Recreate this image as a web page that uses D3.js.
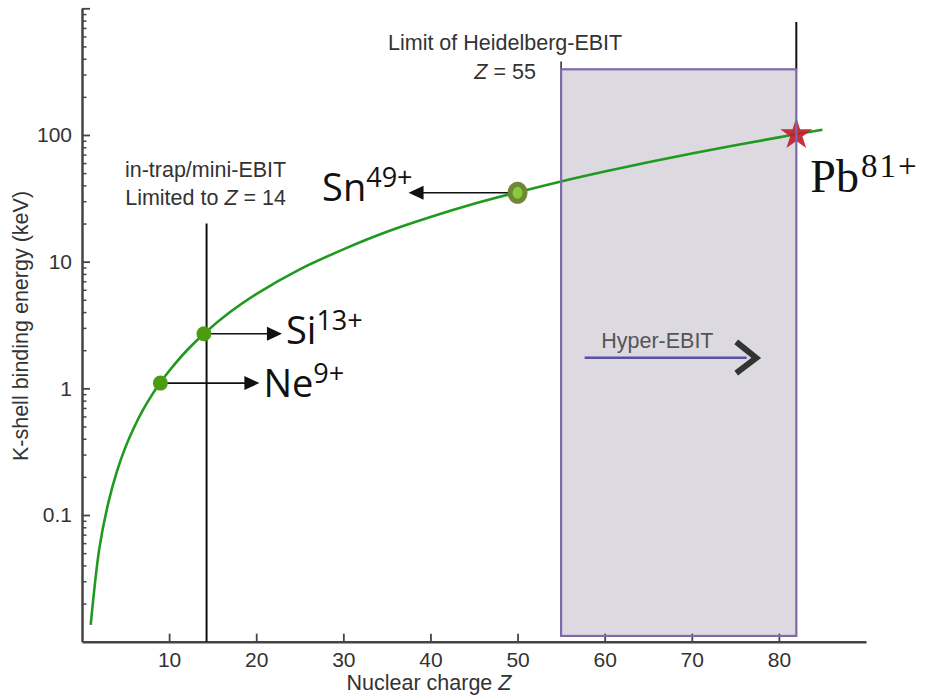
<!DOCTYPE html>
<html>
<head>
<meta charset="utf-8">
<script src="https://cdn.jsdelivr.net/npm/d3@7"></script>
<style>
  body { margin: 0; background: #fff; }
  svg { display: block; }
  .tick text { fill: #333; font-family: "Liberation Sans", Arial, sans-serif; font-size: 21px; }
</style>
</head>
<body>
<div id="chart"></div>
<script>
// K-shell binding energy curve
const curveZ   = [1, 2, 3, 4, 5, 6, 7, 8, 9, 10, 12, 14, 17, 20, 25, 30, 35, 40, 45, 50, 55, 60, 65, 70, 75, 80, 82, 85];
const curveKeV = [0.0136, 0.055, 0.123, 0.22, 0.345, 0.495, 0.675, 0.88, 1.11, 1.37, 1.98, 2.7, 4.0, 5.55, 8.7, 12.5, 17.2, 22.5, 28.6, 35.3, 43.0, 51.5, 61.0, 71.5, 83.0, 95.7, 101.4, 110];

// highlighted ions
const ionNames   = ['Ne', 'Si', 'Sn', 'Pb'];
const ionCharges = ['9+', '13+', '49+', '81+'];
const ionZ       = [9, 14, 50, 82];
const ionKeV     = [1.1, 2.7, 35, 101];

// device limits
const miniEbitZ = 14.3;
const heidelbergZ = 55;
const hyperEbitZ = 82;

// axes
const xTicks = [10, 20, 30, 40, 50, 60, 70, 80];
const yTicks = [0.1, 1, 10, 100, 1000];
const yTickLabels = ['0.1', '1', '10', '100', ''];

const W = 927, H = 697;
const svg = d3.select('#chart').append('svg')
  .attr('width', W)
  .attr('height', H);

const x = d3.scaleLinear().domain([0, 90]).range([82, 866]);
const y = d3.scaleLog().domain([0.01, 1000]).range([641.7, 8.3]);

// Heidelberg-EBIT / Hyper-EBIT region (fill first, outline later)
const boxTop = y(330), boxBottom = y(0.0111);
svg.append('rect')
  .attr('x', x(heidelbergZ))
  .attr('y', boxTop)
  .attr('width', x(hyperEbitZ) - x(heidelbergZ))
  .attr('height', boxBottom - boxTop)
  .attr('fill', '#dcd9e1');

// minor y ticks
const minorTicks = [];
[0.01, 0.1, 1, 10, 100].forEach(d => {
  for (let k = 2; k <= 9; k++) minorTicks.push(d * k);
});
svg.append('g')
  .attr('transform', `translate(${x(0)},0)`)
  .call(d3.axisLeft(y).tickValues(minorTicks).tickSize(-4.5).tickFormat(''))
  .call(g => g.select('.domain').remove())
  .call(g => g.selectAll('line').attr('stroke', '#444').attr('stroke-width', 1.5));

// major y ticks + axis line
svg.append('g')
  .attr('transform', `translate(${x(0)},0)`)
  .call(d3.axisLeft(y).tickValues(yTicks).tickSize(-8).tickSizeOuter(0).tickPadding(10)
    .tickFormat((d, i) => yTickLabels[i]))
  .call(g => g.select('.domain').attr('stroke', '#444').attr('stroke-width', 2.5))
  .call(g => g.selectAll('line').attr('stroke', '#444').attr('stroke-width', 1.8));

// x axis
svg.append('g')
  .attr('transform', `translate(0,${y(0.01)})`)
  .call(d3.axisBottom(x).tickValues(xTicks).tickSize(-8).tickSizeOuter(0).tickPadding(10))
  .call(g => g.select('.domain').attr('stroke', '#444').attr('stroke-width', 2.5))
  .call(g => g.selectAll('line').attr('stroke', '#444').attr('stroke-width', 1.8));

// axis titles
const xTitle = svg.append('text')
  .attr('x', 429).attr('y', 690)
  .attr('text-anchor', 'middle')
  .style('font-family', '"Liberation Sans", Arial, sans-serif')
  .style('font-size', '21.5px')
  .attr('fill', '#333');
xTitle.append('tspan').text('Nuclear charge ');
xTitle.append('tspan').style('font-style', 'italic').text('Z');

svg.append('text')
  .attr('transform', 'translate(28,326) rotate(-90)')
  .attr('text-anchor', 'middle')
  .style('font-family', '"Liberation Sans", Arial, sans-serif')
  .style('font-size', '21.5px')
  .attr('fill', '#333')
  .text('K-shell binding energy (keV)');

// binding energy curve
const curveData = curveZ.map((z, i) => ({ z, e: curveKeV[i] }));
svg.append('path')
  .datum(curveData)
  .attr('fill', 'none')
  .attr('stroke', '#1f9a1f')
  .attr('stroke-width', 2.6)
  .attr('d', d3.line().x(d => x(d.z)).y(d => y(d.e)).curve(d3.curveCatmullRom.alpha(0.5)));

// mini-EBIT limit line
svg.append('line')
  .attr('x1', x(miniEbitZ)).attr('x2', x(miniEbitZ))
  .attr('y1', y(20)).attr('y2', y(0.01))
  .attr('stroke', '#111').attr('stroke-width', 2);

const labelFont = '"Liberation Sans", Arial, sans-serif';
function plainLabel(cx, cy, parts) {
  const t = svg.append('text')
    .attr('x', cx).attr('y', cy)
    .attr('text-anchor', 'middle')
    .style('font-family', labelFont)
    .style('font-size', '21.5px')
    .attr('fill', '#333');
  parts.forEach(p => t.append('tspan').style('font-style', p.italic ? 'italic' : 'normal').text(p.text));
}
plainLabel(x(miniEbitZ) - 1, y(20) - 47, [{ text: 'in-trap/mini-EBIT' }]);
plainLabel(x(miniEbitZ) - 1, y(20) - 19, [{ text: 'Limited to ' }, { text: 'Z', italic: true }, { text: ' = 14' }]);
plainLabel(x(heidelbergZ) - 56, boxTop - 19.5, [{ text: 'Limit of Heidelberg-EBIT' }]);
plainLabel(x(heidelbergZ) - 56, boxTop + 9.5, [{ text: 'Z', italic: true }, { text: ' = 55' }]);

// tick above box at Z = 55 and Pb line
svg.append('line')
  .attr('x1', x(heidelbergZ)).attr('x2', x(heidelbergZ))
  .attr('y1', y(380)).attr('y2', boxTop)
  .attr('stroke', '#222').attr('stroke-width', 1.5);
svg.append('line')
  .attr('x1', x(hyperEbitZ)).attr('x2', x(hyperEbitZ))
  .attr('y1', y(780)).attr('y2', boxTop)
  .attr('stroke', '#111').attr('stroke-width', 2);

// arrows
function arrow(x1, y1, x2, yy) {
  const dir = Math.sign(x2 - x1);
  svg.append('line')
    .attr('x1', x1).attr('x2', x2 - dir * 12)
    .attr('y1', yy).attr('y2', yy)
    .attr('stroke', '#111').attr('stroke-width', 1.6);
  svg.append('path')
    .attr('d', `M${x2},${yy} L${x2 - dir * 15},${yy - 7} L${x2 - dir * 15},${yy + 7} Z`)
    .attr('fill', '#111');
}

// layout of ion annotations (pixel offsets from the point)
const ionLayout = {
  Ne: { len: 99, dy: 14, tx: 4 },
  Si: { len: 78, dy: 10, tx: 4 },
  Sn: { len: -109, dy: 8, tx: 4 }
};

ionNames.forEach((name, i) => {
  const px = x(ionZ[i]), py = y(ionKeV[i]);
  if (name === 'Pb') return;
  const L = ionLayout[name];
  arrow(px + Math.sign(L.len) * 5, py, px + L.len, py);
  const t = svg.append('text')
    .attr('x', px + L.len + L.tx)
    .attr('y', py + L.dy)
    .attr('text-anchor', L.len < 0 ? 'end' : 'start')
    .style('font-family', '"Open Sans", "Noto Sans", sans-serif')
    .style('font-size', '38px')
    .attr('fill', '#111');
  t.append('tspan').text(name);
  t.append('tspan').attr('dy', -14).style('font-size', '27px').text(ionCharges[i]);
});

// ion points
['Ne', 'Si'].forEach(name => {
  const i = ionNames.indexOf(name);
  svg.append('circle')
    .attr('cx', x(ionZ[i])).attr('cy', y(ionKeV[i]))
    .attr('r', 7.5)
    .attr('fill', '#4c9c12');
});
const sn = ionNames.indexOf('Sn');
svg.append('ellipse')
  .attr('cx', x(ionZ[sn])).attr('cy', y(ionKeV[sn]))
  .attr('rx', 7.5).attr('ry', 8.5)
  .attr('fill', '#86cc3a')
  .attr('stroke', '#718636').attr('stroke-width', 5);

const pb = ionNames.indexOf('Pb');
svg.append('path')
  .attr('transform', `translate(${x(ionZ[pb])},${y(ionKeV[pb])})`)
  .attr('d', d3.symbol(d3.symbolStar).size(320)())
  .attr('fill', '#c01f2c')
  .attr('opacity', 0.92);

// box outline on top
svg.append('rect')
  .attr('x', x(heidelbergZ))
  .attr('y', boxTop)
  .attr('width', x(hyperEbitZ) - x(heidelbergZ))
  .attr('height', boxBottom - boxTop)
  .attr('fill', 'none')
  .attr('stroke', '#7d6aab')
  .attr('stroke-width', 2.2);

// Pb label
const pbText = svg.append('text')
  .attr('x', x(ionZ[pb]) + 14)
  .attr('y', y(ionKeV[pb]) + 58)
  .style('font-family', '"Liberation Serif", "DejaVu Serif", serif')
  .style('font-size', '46px')
  .attr('fill', '#111');
pbText.append('tspan').text(ionNames[pb]);
pbText.append('tspan').attr('dy', -15).attr('dx', 2).style('font-size', '33px').style('letter-spacing', '2px').text(ionCharges[pb]);

// Hyper-EBIT arrow
const hyY = y(1.74);
svg.append('line')
  .attr('x1', x(57.7)).attr('x2', x(76.3))
  .attr('y1', hyY).attr('y2', hyY)
  .attr('stroke', '#5b4fa6').attr('stroke-width', 2.5);
svg.append('path')
  .attr('d', `M${x(75.1)},${y(2.33)} L${x(77.4)},${hyY} L${x(75.1)},${y(1.32)}`)
  .attr('fill', 'none')
  .attr('stroke', '#333')
  .attr('stroke-width', 6)
  .attr('stroke-linejoin', 'miter');
svg.append('text')
  .attr('x', x(66.05)).attr('y', hyY - 9.5)
  .attr('text-anchor', 'middle')
  .style('font-family', labelFont)
  .style('font-size', '21.5px')
  .attr('fill', '#555')
  .text('Hyper-EBIT');
</script>
</body>
</html>
